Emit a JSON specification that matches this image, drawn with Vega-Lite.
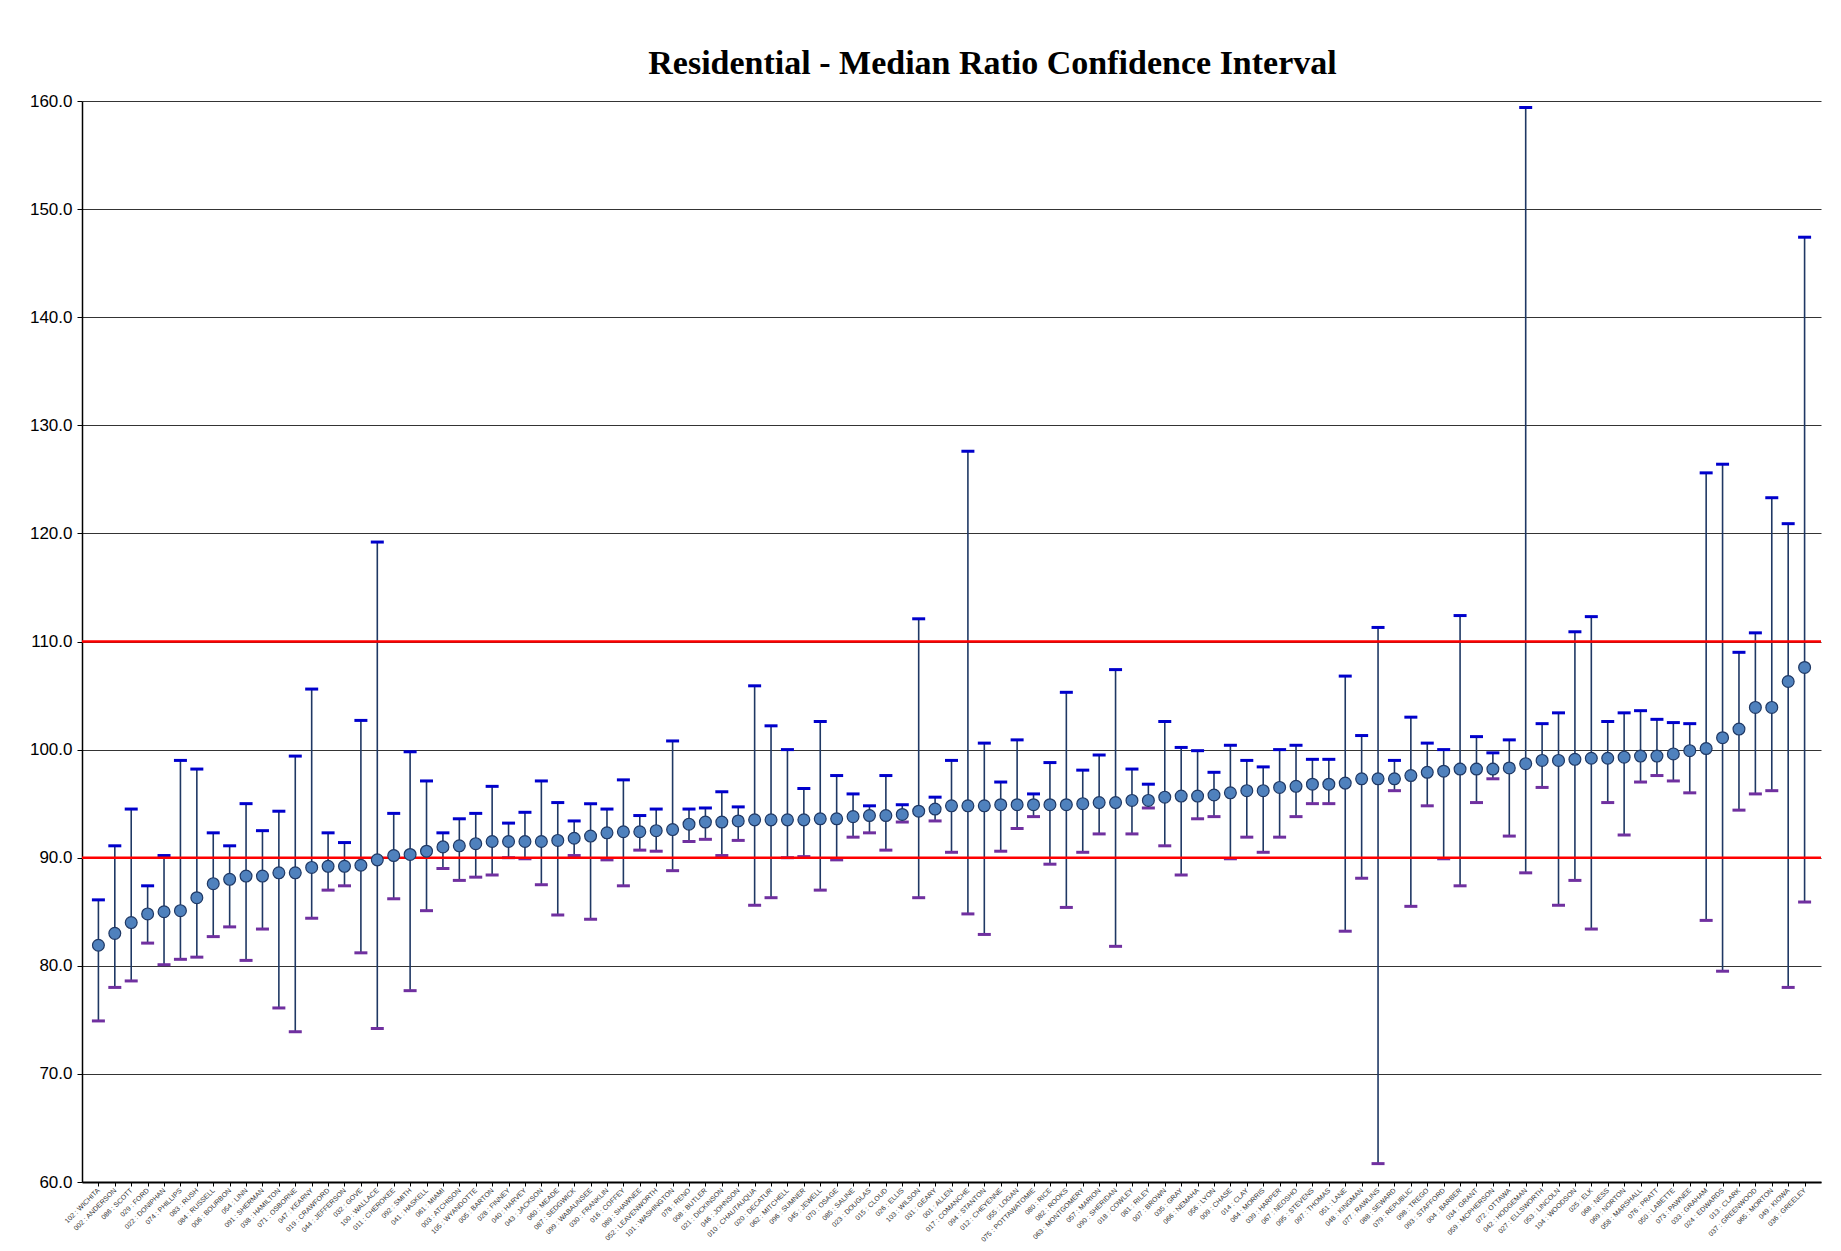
{
  "$schema": "https://vega.github.io/schema/vega-lite/v6.json",
  "width": 1739,
  "height": 1081,
  "autosize": {"type": "none"},
  "padding": {"left": 82, "top": 101, "right": 20, "bottom": 69},
  "background": "white",
  "config": {"view": {"stroke": null}, "font": "Liberation Sans"},
  "title": {"text": "Residential - Median Ratio Confidence Interval", "font": "Liberation Serif", "fontSize": 34, "fontWeight": "bold", "color": "#000", "offset": 11, "dx": 41},
  "datasets": {
    "ci": [
      {"c":"102 : WICHITA","m":81.9,"hi":86.1,"lo":74.9},
      {"c":"002 : ANDERSON","m":83.0,"hi":91.1,"lo":78.0},
      {"c":"086 : SCOTT","m":84.0,"hi":94.5,"lo":78.6},
      {"c":"029 : FORD","m":84.8,"hi":87.4,"lo":82.1},
      {"c":"022 : DONIPHAN","m":85.0,"hi":90.2,"lo":80.1},
      {"c":"074 : PHILLIPS","m":85.1,"hi":99.0,"lo":80.6},
      {"c":"083 : RUSH","m":86.3,"hi":98.2,"lo":80.8},
      {"c":"084 : RUSSELL","m":87.6,"hi":92.3,"lo":82.7},
      {"c":"006 : BOURBON","m":88.0,"hi":91.1,"lo":83.6},
      {"c":"054 : LINN","m":88.3,"hi":95.0,"lo":80.5},
      {"c":"091 : SHERMAN","m":88.3,"hi":92.5,"lo":83.4},
      {"c":"038 : HAMILTON","m":88.6,"hi":94.3,"lo":76.1},
      {"c":"071 : OSBORNE","m":88.6,"hi":99.4,"lo":73.9},
      {"c":"047 : KEARNY","m":89.1,"hi":105.6,"lo":84.4},
      {"c":"019 : CRAWFORD","m":89.2,"hi":92.3,"lo":87.0},
      {"c":"044 : JEFFERSON","m":89.2,"hi":91.4,"lo":87.4},
      {"c":"032 : GOVE","m":89.3,"hi":102.7,"lo":81.2},
      {"c":"100 : WALLACE","m":89.8,"hi":119.2,"lo":74.2},
      {"c":"011 : CHEROKEE","m":90.2,"hi":94.1,"lo":86.2},
      {"c":"092 : SMITH","m":90.3,"hi":99.8,"lo":77.7},
      {"c":"041 : HASKELL","m":90.6,"hi":97.1,"lo":85.1},
      {"c":"061 : MIAMI","m":91.0,"hi":92.3,"lo":89.0},
      {"c":"003 : ATCHISON","m":91.1,"hi":93.6,"lo":87.9},
      {"c":"105 : WYANDOTTE","m":91.3,"hi":94.1,"lo":88.2},
      {"c":"005 : BARTON","m":91.5,"hi":96.6,"lo":88.4},
      {"c":"028 : FINNEY","m":91.5,"hi":93.2,"lo":90.0},
      {"c":"040 : HARVEY","m":91.5,"hi":94.2,"lo":89.9},
      {"c":"043 : JACKSON","m":91.5,"hi":97.1,"lo":87.5},
      {"c":"060 : MEADE","m":91.6,"hi":95.1,"lo":84.7},
      {"c":"087 : SEDGWICK","m":91.8,"hi":93.4,"lo":90.2},
      {"c":"099 : WABAUNSEE","m":92.0,"hi":95.0,"lo":84.3},
      {"c":"030 : FRANKLIN","m":92.3,"hi":94.5,"lo":89.8},
      {"c":"016 : COFFEY","m":92.4,"hi":97.2,"lo":87.4},
      {"c":"089 : SHAWNEE","m":92.4,"hi":93.9,"lo":90.7},
      {"c":"052 : LEAVENWORTH","m":92.5,"hi":94.5,"lo":90.6},
      {"c":"101 : WASHINGTON","m":92.6,"hi":100.8,"lo":88.8},
      {"c":"078 : RENO","m":93.1,"hi":94.5,"lo":91.5},
      {"c":"008 : BUTLER","m":93.3,"hi":94.6,"lo":91.7},
      {"c":"021 : DICKINSON","m":93.3,"hi":96.1,"lo":90.2},
      {"c":"046 : JOHNSON","m":93.4,"hi":94.7,"lo":91.6},
      {"c":"010 : CHAUTAUQUA","m":93.5,"hi":105.9,"lo":85.6},
      {"c":"020 : DECATUR","m":93.5,"hi":102.2,"lo":86.3},
      {"c":"062 : MITCHELL","m":93.5,"hi":100.0,"lo":90.0},
      {"c":"096 : SUMNER","m":93.5,"hi":96.4,"lo":90.1},
      {"c":"045 : JEWELL","m":93.6,"hi":102.6,"lo":87.0},
      {"c":"070 : OSAGE","m":93.6,"hi":97.6,"lo":89.8},
      {"c":"085 : SALINE","m":93.8,"hi":95.9,"lo":91.9},
      {"c":"023 : DOUGLAS","m":93.9,"hi":94.8,"lo":92.3},
      {"c":"015 : CLOUD","m":93.9,"hi":97.6,"lo":90.7},
      {"c":"026 : ELLIS","m":94.0,"hi":94.9,"lo":93.3},
      {"c":"103 : WILSON","m":94.3,"hi":112.1,"lo":86.3},
      {"c":"031 : GEARY","m":94.5,"hi":95.6,"lo":93.4},
      {"c":"001 : ALLEN","m":94.8,"hi":99.0,"lo":90.5},
      {"c":"017 : COMANCHE","m":94.8,"hi":127.6,"lo":84.8},
      {"c":"094 : STANTON","m":94.8,"hi":100.6,"lo":82.9},
      {"c":"012 : CHEYENNE","m":94.9,"hi":97.0,"lo":90.6},
      {"c":"055 : LOGAN","m":94.9,"hi":100.9,"lo":92.7},
      {"c":"075 : POTTAWATOMIE","m":94.9,"hi":95.9,"lo":93.8},
      {"c":"080 : RICE","m":94.9,"hi":98.8,"lo":89.4},
      {"c":"082 : ROOKS","m":94.9,"hi":105.3,"lo":85.4},
      {"c":"063 : MONTGOMERY","m":95.0,"hi":98.1,"lo":90.5},
      {"c":"057 : MARION","m":95.1,"hi":99.5,"lo":92.2},
      {"c":"090 : SHERIDAN","m":95.1,"hi":107.4,"lo":81.8},
      {"c":"018 : COWLEY","m":95.3,"hi":98.2,"lo":92.2},
      {"c":"081 : RILEY","m":95.3,"hi":96.8,"lo":94.6},
      {"c":"007 : BROWN","m":95.6,"hi":102.6,"lo":91.1},
      {"c":"035 : GRAY","m":95.7,"hi":100.2,"lo":88.4},
      {"c":"066 : NEMAHA","m":95.7,"hi":99.9,"lo":93.6},
      {"c":"056 : LYON","m":95.8,"hi":97.9,"lo":93.8},
      {"c":"009 : CHASE","m":96.0,"hi":100.4,"lo":89.9},
      {"c":"014 : CLAY","m":96.2,"hi":99.0,"lo":91.9},
      {"c":"064 : MORRIS","m":96.2,"hi":98.4,"lo":90.5},
      {"c":"039 : HARPER","m":96.5,"hi":100.0,"lo":91.9},
      {"c":"067 : NEOSHO","m":96.6,"hi":100.4,"lo":93.8},
      {"c":"095 : STEVENS","m":96.8,"hi":99.1,"lo":95.0},
      {"c":"097 : THOMAS","m":96.8,"hi":99.1,"lo":95.0},
      {"c":"051 : LANE","m":96.9,"hi":106.8,"lo":83.2},
      {"c":"048 : KINGMAN","m":97.3,"hi":101.3,"lo":88.1},
      {"c":"077 : RAWLINS","m":97.3,"hi":111.3,"lo":61.7},
      {"c":"088 : SEWARD","m":97.3,"hi":99.0,"lo":96.2},
      {"c":"079 : REPUBLIC","m":97.6,"hi":103.0,"lo":85.5},
      {"c":"098 : TREGO","m":97.9,"hi":100.6,"lo":94.8},
      {"c":"093 : STAFFORD","m":98.0,"hi":100.0,"lo":89.9},
      {"c":"004 : BARBER","m":98.2,"hi":112.4,"lo":87.4},
      {"c":"034 : GRANT","m":98.2,"hi":101.2,"lo":95.1},
      {"c":"059 : MCPHERSON","m":98.2,"hi":99.7,"lo":97.3},
      {"c":"072 : OTTAWA","m":98.3,"hi":100.9,"lo":92.0},
      {"c":"042 : HODGEMAN","m":98.7,"hi":159.4,"lo":88.6},
      {"c":"027 : ELLSWORTH","m":99.0,"hi":102.4,"lo":96.5},
      {"c":"053 : LINCOLN","m":99.0,"hi":103.4,"lo":85.6},
      {"c":"104 : WOODSON","m":99.1,"hi":110.9,"lo":87.9},
      {"c":"025 : ELK","m":99.2,"hi":112.3,"lo":83.4},
      {"c":"068 : NESS","m":99.2,"hi":102.6,"lo":95.1},
      {"c":"069 : NORTON","m":99.3,"hi":103.4,"lo":92.1},
      {"c":"058 : MARSHALL","m":99.4,"hi":103.6,"lo":97.0},
      {"c":"076 : PRATT","m":99.4,"hi":102.8,"lo":97.6},
      {"c":"050 : LABETTE","m":99.6,"hi":102.5,"lo":97.1},
      {"c":"073 : PAWNEE","m":99.9,"hi":102.4,"lo":96.0},
      {"c":"033 : GRAHAM","m":100.1,"hi":125.6,"lo":84.2},
      {"c":"024 : EDWARDS","m":101.1,"hi":126.4,"lo":79.5},
      {"c":"013 : CLARK","m":101.9,"hi":109.0,"lo":94.4},
      {"c":"037 : GREENWOOD","m":103.9,"hi":110.8,"lo":95.9},
      {"c":"065 : MORTON","m":103.9,"hi":123.3,"lo":96.2},
      {"c":"049 : KIOWA","m":106.3,"hi":120.9,"lo":78.0},
      {"c":"036 : GREELEY","m":107.6,"hi":147.4,"lo":85.9}
    ],
    "refs": [{"v": 90}, {"v": 110}]
  },
  "layer": [
    {
      "data": {"name": "ci"},
      "mark": {"type": "rule", "color": "#1F3864", "strokeWidth": 1.6},
      "encoding": {
        "x": {"field": "c", "type": "nominal", "sort": null,
              "scale": {"type": "point", "padding": 1.1},
              "axis": {"title": null, "labelAngle": -45, "labelAlign": "right", "labelBaseline": "middle", "labelFontSize": 7, "labelColor": "#333", "labelPadding": 3, "domainColor": "#000", "domainWidth": 2, "tickColor": "#000", "tickSize": 4, "labelOverlap": false, "labelLimit": 200}},
        "y": {"field": "lo", "type": "quantitative",
              "scale": {"domain": [60, 160], "nice": false, "zero": false},
              "axis": {"title": null, "values": [60,70,80,90,100,110,120,130,140,150,160], "format": ".1f", "labelFontSize": 17, "labelColor": "#000", "labelPadding": 5, "tickSize": 5, "tickColor": "#000", "domainColor": "#000", "domainWidth": 1.5, "gridColor": "#000", "gridWidth": 0.8, "grid": true}},
        "y2": {"field": "hi"}
      }
    },
    {
      "data": {"name": "ci"},
      "mark": {"type": "tick", "color": "#0000CC", "thickness": 3, "size": 13, "opacity": 1},
      "encoding": {
        "x": {"field": "c", "type": "nominal", "sort": null},
        "y": {"field": "hi", "type": "quantitative"}
      }
    },
    {
      "data": {"name": "ci"},
      "mark": {"type": "tick", "color": "#7030A0", "thickness": 3, "size": 13, "opacity": 1},
      "encoding": {
        "x": {"field": "c", "type": "nominal", "sort": null},
        "y": {"field": "lo", "type": "quantitative"}
      }
    },
    {
      "data": {"name": "refs"},
      "mark": {"type": "rule", "color": "#FF0000", "strokeWidth": 2.6},
      "encoding": {"y": {"field": "v", "type": "quantitative"}}
    },
    {
      "data": {"name": "ci"},
      "mark": {"type": "circle", "size": 140, "fill": "#4F81BD", "stroke": "#1F3864", "strokeWidth": 1.2, "opacity": 1},
      "encoding": {
        "x": {"field": "c", "type": "nominal", "sort": null},
        "y": {"field": "m", "type": "quantitative"}
      }
    }
  ]
}
